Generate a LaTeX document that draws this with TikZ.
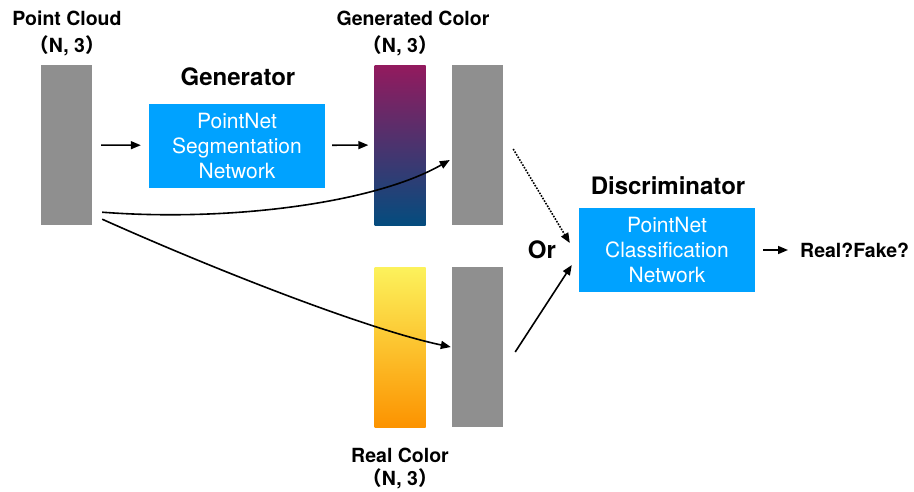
\documentclass[tikz,border=0pt]{standalone}
\usepackage{fontspec}
\setmainfont{TeX Gyre Heros}
\newfontfamily\cjk{Noto Sans CJK SC}
\usetikzlibrary{arrows.meta,calc}

\definecolor{barGray}{HTML}{8F8F8F}
\definecolor{netBlue}{HTML}{00A2FF}
\definecolor{genTop}{HTML}{931A5E}
\definecolor{genMid}{HTML}{50306E}
\definecolor{genBottom}{HTML}{044C7E}
\definecolor{realTop}{HTML}{FCF25C}
\definecolor{realMid}{HTML}{FBC838}
\definecolor{realBottom}{HTML}{FC9300}

% shape of a point set: (N, 3) with full-width brackets
\newcommand\nthree{{\cjk （}N, 3{\cjk ）}}

\begin{document}
\begin{tikzpicture}[x=1pt,y=-1pt,
  bar/.style={draw=none, minimum width=51pt, minimum height=160pt, inner sep=0pt},
  graybar/.style={bar, fill=barGray},
  netbox/.style={fill=netBlue, text=white, minimum width=176pt, minimum height=84pt,
    inner sep=0pt, align=center, font=\fontsize{21}{25}\selectfont},
  dimtext/.style={font=\bfseries\fontsize{19.5}{24}\selectfont, anchor=base, inner sep=0pt},
  headtext/.style={font=\bfseries\fontsize{24}{28}\selectfont, anchor=base, inner sep=0pt},
  flow/.style={-{Triangle[length=10pt,width=8pt]}, line width=1.6pt},
]
\useasboundingbox (0,0) rectangle (914,491);

% input point cloud
\node[graybar] (pc) at (66.5,145) {};
\node[dimtext] (pcname) at (67,25) {Point Cloud};
\node[dimtext] (pcdim) at (67,52) {\nthree};

% generator
\node[headtext] (genname) at (238,85) {Generator};
\node[netbox] (seg) at (237,145.5) {PointNet\\Segmentation\\Network};

% generated colours and their points
\node[bar, top color=genTop, middle color=genMid, bottom color=genBottom] (gc) at (400,145) {};
\node[graybar] (gg) at (477.5,145) {};
\node[dimtext] (gcname) at (413,25) {Generated Color};
\node[dimtext] (gcdim) at (400,52) {\nthree};

% real colours and their points
\node[bar, top color=realTop, middle color=realMid, bottom color=realBottom] (rc) at (400,347) {};
\node[graybar] (rg) at (477.5,347) {};
\node[dimtext] (rcname) at (400,462) {Real Color};
\node[dimtext] (rcdim) at (400,485) {\nthree};

% discriminator
\node[headtext] (orword) at (542,258) {Or};
\node[headtext] (discname) at (668,194) {Discriminator};
\node[netbox] (disc) at (667,250) {PointNet\\Classification\\Network};
\node[dimtext, anchor=base west] (out) at (800,257) {Real?Fake?};

% connectors
\draw[flow, shorten <=9pt, shorten >=8pt] (pc) -- (seg);
\draw[flow, shorten <=7pt, shorten >=6pt] (seg) -- (gc);
\draw[flow] ($(pc.south east)+(10,-13)$) .. controls (230,222) and (375,203) .. ($(gg.west)+(-2,15)$);
\draw[flow] ($(pc.south east)+(10,-6)$) .. controls (220,272) and (370,330) .. ($(rg.west)+(-1,0)$);
\draw[flow, dash pattern=on 1.6pt off 1.4pt] ($(gg.east)+(10,4)$) -- ($(disc.west)+(-9,-7)$);
\draw[flow] ($(rg.east)+(12,5)$) -- ($(disc.west)+(-7,15)$);
\draw[flow, shorten <=8pt, shorten >=12pt] (disc.east) -- (disc.east -| out.west);
\end{tikzpicture}
\end{document}
